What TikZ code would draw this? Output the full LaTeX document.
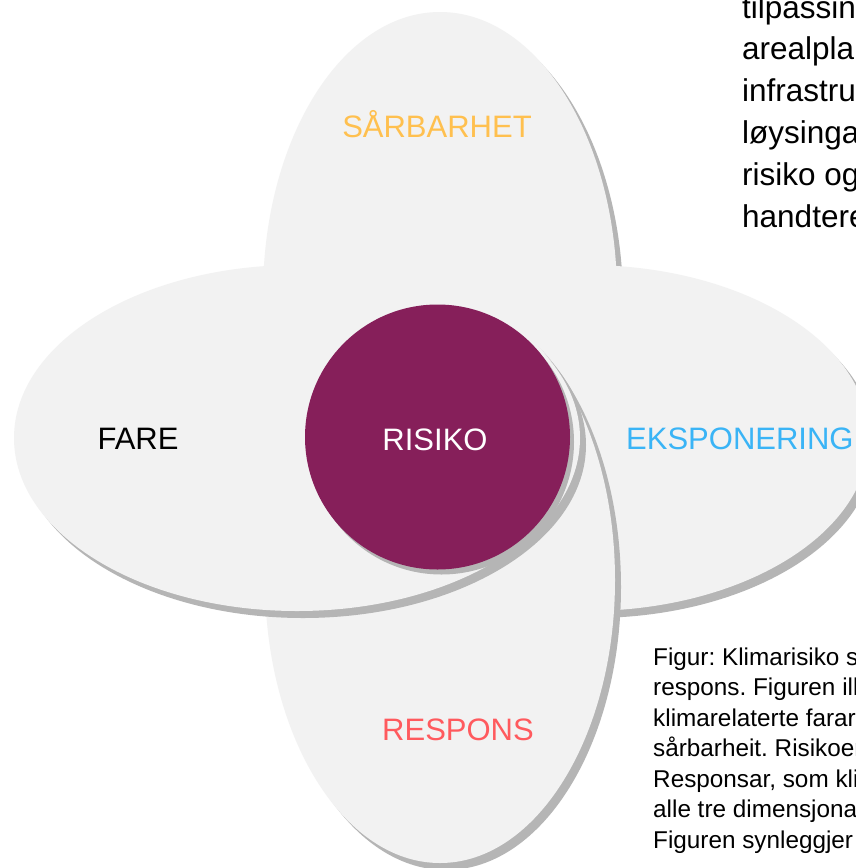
\documentclass[tikz,border=0pt]{standalone}
\usepackage{fontspec}
\setmainfont{Liberation Sans}
\frenchspacing
\usepackage{tikz}
\usetikzlibrary{positioning,shapes.geometric,shadows}
\definecolor{petalgray}{HTML}{F2F2F2}
\definecolor{rimgray}{HTML}{B5B5B5}
\definecolor{risikored}{HTML}{861F5A}
\definecolor{sarbyellow}{HTML}{FFC04F}
\definecolor{eksblue}{HTML}{3AB4F6}
\definecolor{resred}{HTML}{FF5A5E}
\tikzset{
  petal/.style={
    ellipse,
    fill=petalgray,
    inner sep=0pt, outer sep=0pt,
    drop shadow={shadow xshift=6pt, shadow yshift=-7pt, fill=rimgray, opacity=1}},
  labeltext/.style={font=\fontsize{31}{37}\selectfont, anchor=base, inner sep=0pt},
  bodytext/.style={align=left, anchor=base west, inner sep=0pt},
}

\begin{document}
\begin{tikzpicture}
[
x=1pt, y=-1pt,
circlenode/.style={circle, fill=risikored, inner sep=0pt, minimum size=265pt,
  drop shadow={shadow xshift=4pt, shadow yshift=-5pt, fill=rimgray, opacity=1}},
]
\path[use as bounding box, fill=white] (0,0) rectangle (855,868);

%Petals
\node[petal, minimum width=354pt, minimum height=566pt] (toppetal)    at (440,295) {};
\node[petal, minimum width=566pt, minimum height=346pt] (rightpetal)  at (586,438) {};
\node[petal, minimum width=350pt, minimum height=566pt] (bottompetal) at (440,580) {};
\node[petal, minimum width=566pt, minimum height=346pt] (leftpetal)   at (297,438) {};
\node[circlenode] (maincircle) at (437.5,437) {};

%Labels
\node[labeltext, text=sarbyellow] (sarbarhet) at (437,137) {SÅRBARHET};
\node[labeltext] (fare) at (138,449) {FARE};
\node[labeltext, text=white] (risiko) at (435,450) {RISIKO};
\node[labeltext, text=eksblue, anchor=base west] (eksponering) at (626,449) {EKSPONERING};
\node[labeltext, text=resred] (respons) at (458,740) {RESPONS};

%Text (base = last line)
\node[bodytext, font=\fontsize{31.5}{41.8}\selectfont] (sidetext) at (742,227)
  {tilpassin\\arealpla\\infrastru\\løysinga\\risiko og\\handtere};
\node[bodytext, font=\fontsize{24.3}{30.5}\selectfont] (caption) at (653,848)
  {Figur: Klimarisiko s\\respons. Figuren ill\\klimarelaterte farar\\sårbarheit. Risikoen\\Responsar, som klim\\alle tre dimensjonar\\Figuren synleggjer};

\end{tikzpicture}
\end{document}
